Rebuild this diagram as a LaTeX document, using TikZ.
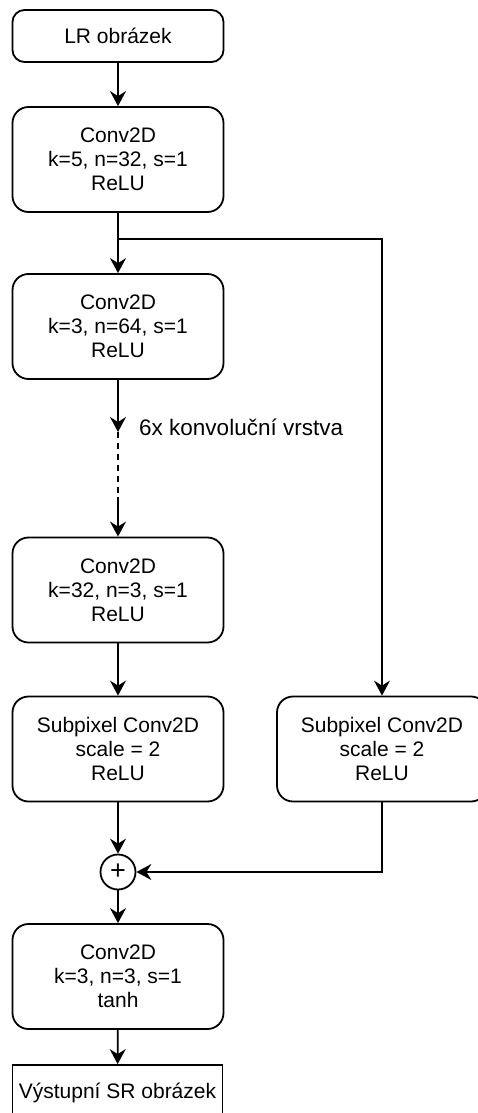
\documentclass[tikz,border=0pt]{standalone}
\usepackage{fontspec}
\setmainfont{Liberation Sans}
\usetikzlibrary{arrows.meta}
\begin{document}
\begin{tikzpicture}[x=1pt,y=1pt,line width=1.8pt,
    >={Stealth[length=15pt,width=16pt,inset=5pt]},
    every node/.style={font=\fontsize{21}{24}\selectfont},
    blok/.style={draw,rounded corners=16pt,align=center,minimum width=211pt,minimum height=105pt,inner sep=0pt},
    vstup/.style={draw,rounded corners=12pt,minimum width=211pt,minimum height=52pt,inner sep=0pt},
    vystup/.style={draw,minimum width=210pt,minimum height=55pt,inner sep=0pt},
    soucet/.style={draw,circle,minimum size=35pt,inner sep=0pt}]
                \useasboundingbox (0,0) rectangle (477,-1113);

                \node[vstup] (lr) at (118,-36) {LR obrázek};
                \node[blok] (c1) at (118,-159.5) {Conv2D\\k=5, n=32, s=1\\ReLU};
                \node[blok] (c2) at (118,-326.5) {Conv2D\\k=3, n=64, s=1\\ReLU};
                \node[blok] (c3) at (118,-590) {Conv2D\\k=32, n=3, s=1\\ReLU};
                \node[blok] (sp1) at (118,-749) {Subpixel Conv2D\\scale = 2\\ReLU};
                \node[blok,minimum width=210pt] (sp2) at (382,-749) {Subpixel Conv2D\\scale = 2\\ReLU};
                \node[soucet,font=\fontsize{27}{27}\selectfont] (plus) at (118,-872) {+};
                \node[blok] (c4) at (118,-976.5) {Conv2D\\k=3, n=3, s=1\\tanh};
                \node[vystup] (sr) at (117.5,-1092.5) {Výstupní SR obrázek};

                \coordinate (v1) at (118,-239);
                \coordinate (v2) at (382,-239);
                \coordinate (d1) at (118,-432);
                \coordinate (d2) at (118,-497);
                \node[anchor=west,font=\fontsize{22.5}{24}\selectfont] (opak) at (135,-427) {6x konvoluční vrstva};

                \draw[->] (lr) -- (c1);
                \draw[->] (c1) -- (c2);
                \draw[->,line width=1.4pt] (v1) -- (v2) -- (sp2);
                \draw[->] (c2) -- (d1);
                \draw[dashed,dash pattern=on 6pt off 5pt] (d1) -- (d2);
                \draw[->] (d2) -- (c3);
                \draw[->] (c3) -- (sp1);
                \draw[->] (sp1) -- (plus);
                \draw[->,line width=1.4pt] (sp2) |- (plus);
                \draw[->] (plus) -- (c4);
                \draw[->] (c4) -- (sr);
            \end{tikzpicture}
\end{document}
